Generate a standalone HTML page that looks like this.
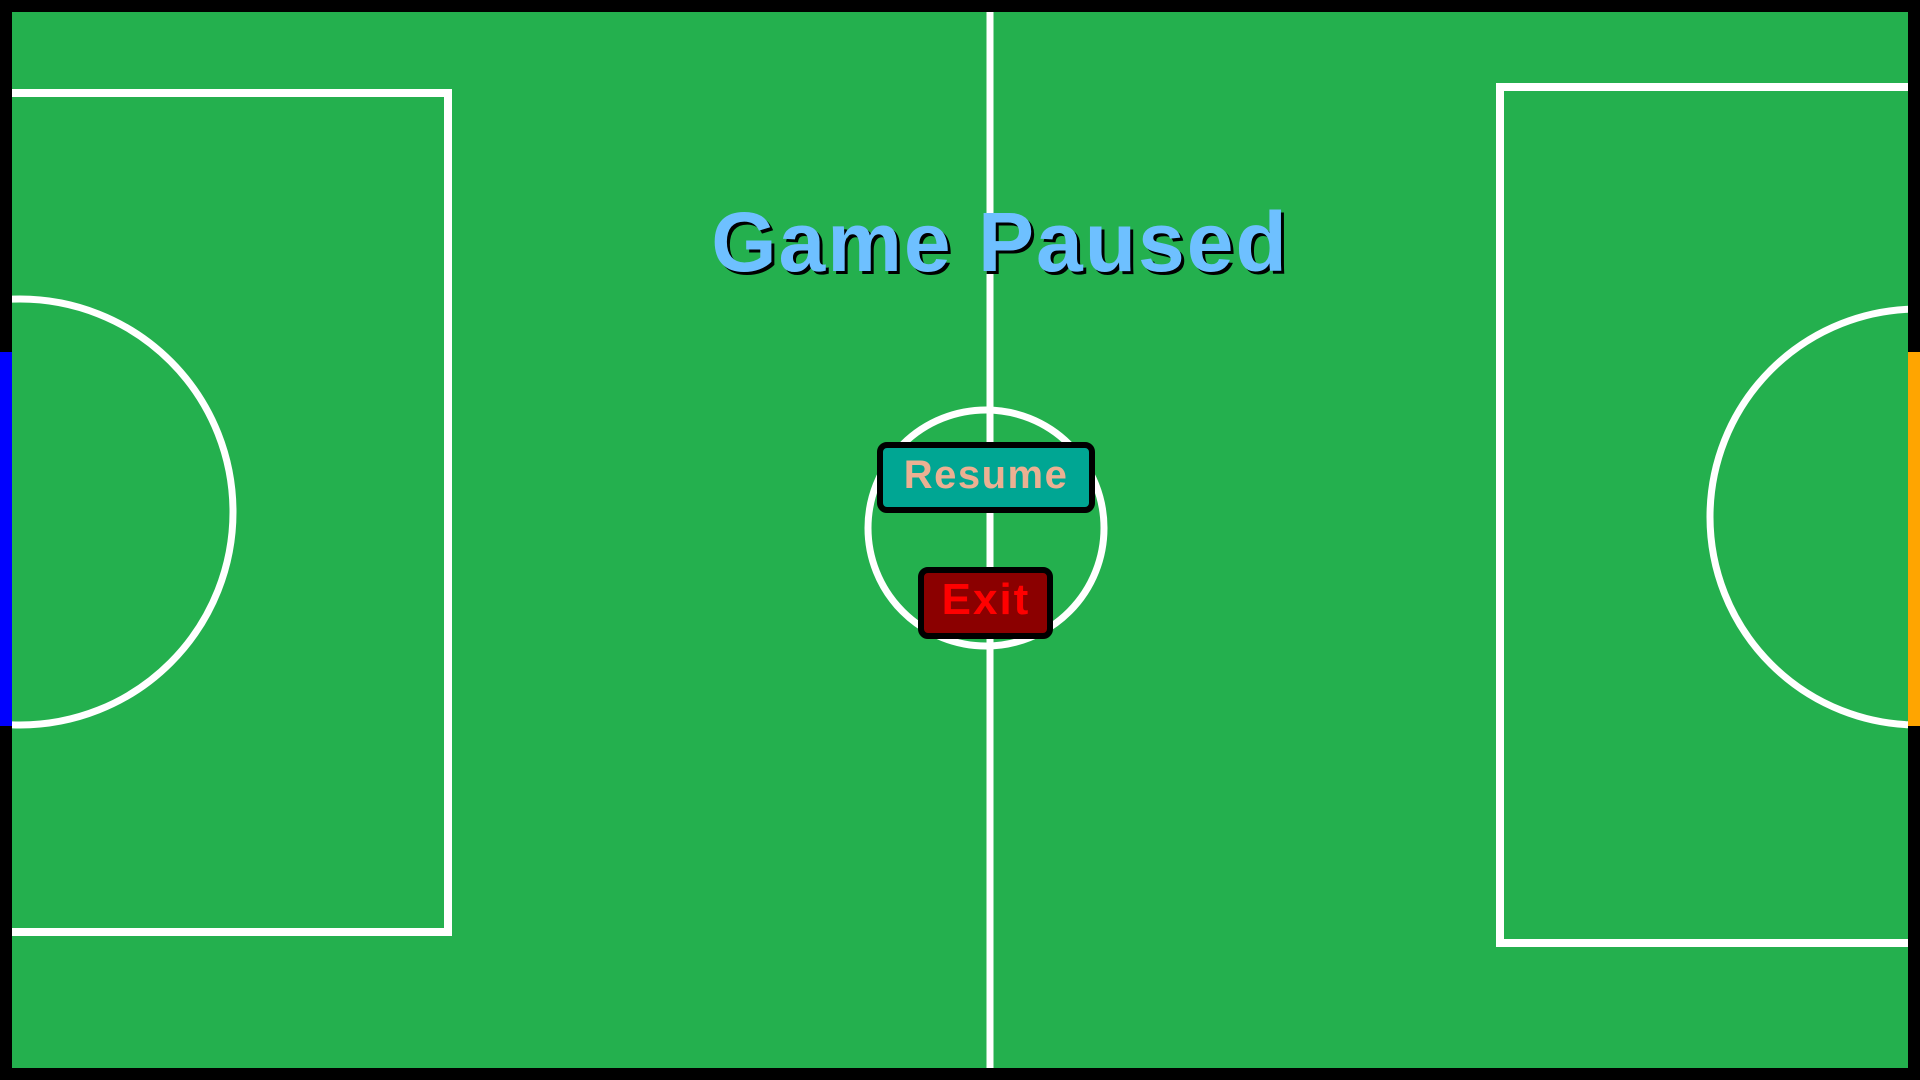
<!DOCTYPE html>
<html><head><meta charset="utf-8"><style>
html,body{margin:0;padding:0;width:1920px;height:1080px;overflow:hidden;background:#000}
svg{display:block}
</style></head><body>
<svg width="1920" height="1080" xmlns="http://www.w3.org/2000/svg">
<rect x="0" y="0" width="1920" height="1080" fill="#000"/>
<rect x="12" y="12" width="1896" height="1056" fill="#24B04E"/>
<defs><clipPath id="f"><rect x="12" y="12" width="1896" height="1056"/></clipPath></defs>
<g clip-path="url(#f)" fill="none" stroke="#fff">
<line x1="990" y1="0" x2="990" y2="1080" stroke-width="7"/>
<circle cx="986" cy="528" r="118" stroke-width="7"/>
<polyline points="0,93 448,93 448,932 0,932" stroke-width="8"/>
<polyline points="1920,87 1500,87 1500,943 1920,943" stroke-width="8"/>
<circle cx="20" cy="512" r="213" stroke-width="7"/>
<circle cx="1918" cy="517" r="208" stroke-width="7"/>
</g>
<rect x="0" y="352" width="12" height="374" fill="#0000FF"/>
<rect x="1908" y="352" width="12" height="374" fill="#FFA500"/>
<g font-family="Liberation Sans, sans-serif" font-weight="bold" text-anchor="middle" letter-spacing="2">
<text x="1003" y="274" font-size="84" fill="#000">Game Paused</text>
<text x="1000" y="271" font-size="84" fill="#6EC0FF">Game Paused</text>
</g>
<rect x="880" y="445" width="212" height="65" rx="7" fill="#00A693" stroke="#000" stroke-width="6"/>
<text x="986" y="488" font-family="Liberation Sans, sans-serif" font-weight="bold" font-size="40" fill="#EBB092" text-anchor="middle" letter-spacing="1.5">Resume</text>
<rect x="921" y="570" width="129" height="66" rx="7" fill="#8B0000" stroke="#000" stroke-width="6"/>
<text x="986" y="614" font-family="Liberation Sans, sans-serif" font-weight="bold" font-size="44" fill="#FF0000" text-anchor="middle" letter-spacing="2">Exit</text>
</svg>
</body></html>
